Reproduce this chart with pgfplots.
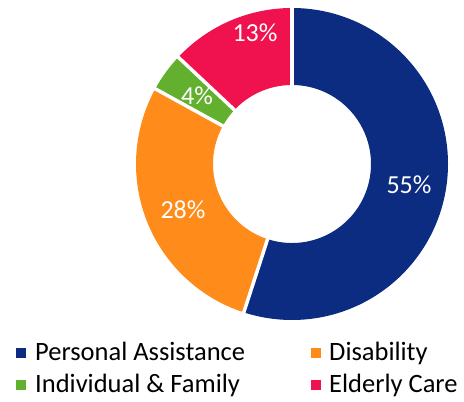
\documentclass[border=0pt]{standalone}
\usepackage{pgfplots}
\pgfplotsset{compat=1.18}
\usepackage{pgfplotstable}
\usepackage{fontspec}
\setmainfont{Carlito}
\definecolor{cNavy}{RGB}{11,44,128}
\definecolor{cOrange}{RGB}{255,140,26}
\definecolor{cGreen}{RGB}{98,176,46}
\definecolor{cRed}{RGB}{240,18,78}
% share (%), colour, label position (x, y in bp from lower left)
\pgfplotstableread{
value col lx ly
55 cNavy 409 217.5
28 cOrange 183 192
4 cGreen 197 306
13 cRed 255 369
}\datatable
\begin{document}
\begin{tikzpicture}
\begin{axis}[width=464bp, height=402bp, scale only axis,
  xmin=0, xmax=464, ymin=0, ymax=402, hide axis, clip=false]
\path (axis cs:0,0) rectangle (axis cs:464,402);
\pgfplotsextra{
  \xdef\startang{90}
  \foreach \i in {0,...,3} {
    \pgfplotstablegetelem{\i}{value}\of\datatable \let\v\pgfplotsretval
    \pgfplotstablegetelem{\i}{col}\of\datatable \let\c\pgfplotsretval
    \pgfmathsetmacro{\endang}{\startang - 3.6*\v}
    \fill[\c, shift={(axis cs:292,238)}] (\startang:156bp)
      arc[start angle=\startang, end angle=\endang, radius=156bp]
      -- (\endang:79bp)
      arc[start angle=\endang, end angle=\startang, radius=79bp] -- cycle;
    \xdef\startang{\endang}
  }
  \xdef\startang{90}
  \foreach \i in {0,...,3} {
    \pgfplotstablegetelem{\i}{value}\of\datatable \let\v\pgfplotsretval
    \pgfmathsetmacro{\endang}{\startang - 3.6*\v}
    \draw[white, line width=3.5bp, shift={(axis cs:292,238)}] (\startang:75bp) -- (\startang:160bp);
    \xdef\startang{\endang}
  }
  \foreach \i in {0,...,3} {
    \pgfplotstablegetelem{\i}{value}\of\datatable \let\v\pgfplotsretval
    \pgfplotstablegetelem{\i}{lx}\of\datatable \let\lx\pgfplotsretval
    \pgfplotstablegetelem{\i}{ly}\of\datatable \let\ly\pgfplotsretval
    \node[white, font=\fontsize{26bp}{30bp}\selectfont, inner sep=0pt] at (axis cs:\lx,\ly) {\v\%};
  }
}
% legend
\fill[cNavy] (axis cs:16,43.7) rectangle (axis cs:26,53.7);
\node[anchor=base west, inner sep=0pt, font=\fontsize{26.5bp}{30bp}\selectfont] at (axis cs:35,41.3) {Personal Assistance};
\fill[cOrange] (axis cs:311,43.7) rectangle (axis cs:321,53.7);
\node[anchor=base west, inner sep=0pt, font=\fontsize{26.5bp}{30bp}\selectfont] at (axis cs:329,41.3) {Disability};
\fill[cGreen] (axis cs:16,12) rectangle (axis cs:26,22);
\node[anchor=base west, inner sep=0pt, font=\fontsize{26.5bp}{30bp}\selectfont] at (axis cs:35,9.3) {Individual \& Family};
\fill[cRed] (axis cs:311,12) rectangle (axis cs:321,22);
\node[anchor=base west, inner sep=0pt, font=\fontsize{26.5bp}{30bp}\selectfont] at (axis cs:329,9.3) {Elderly Care};
\end{axis}
\end{tikzpicture}
\end{document}
